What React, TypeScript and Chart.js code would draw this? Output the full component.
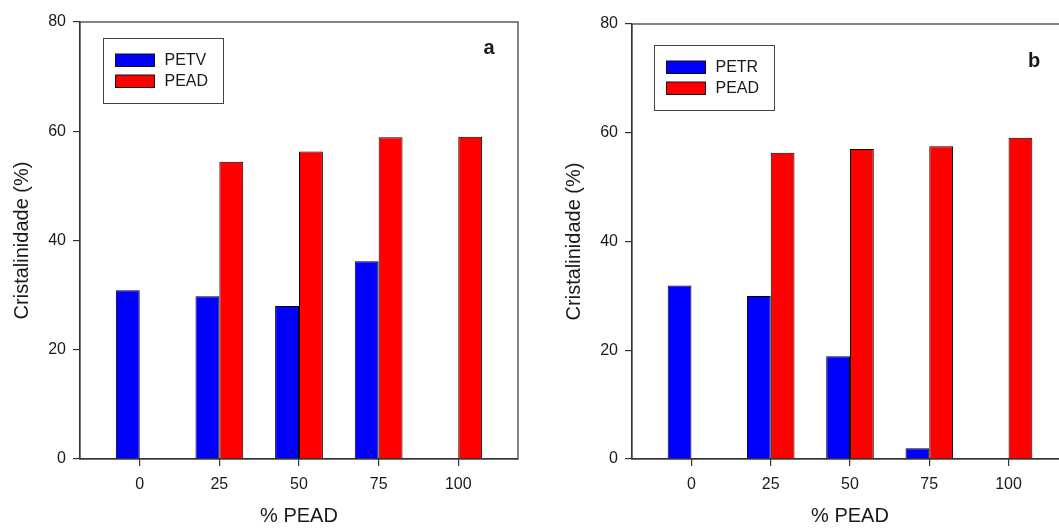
import { useEffect, useRef } from 'react';
import { Chart, registerables } from 'chart.js';

Chart.register(...registerables);

const categories = ['0', '25', '50', '75', '100'];
const yTicks = [0, 20, 40, 60, 80];
const petvValues = [30.9, 29.8, 28.0, 36.2, null];
const peadValuesA = [null, 54.4, 56.3, 58.9, 59.0];
const petrValues = [31.9, 30.0, 18.9, 2.0, null];
const peadValuesB = [null, 56.3, 57.0, 57.5, 59.1];

const FONT = '"Liberation Sans", Arial, Helvetica, sans-serif';
const TEXT = '#1a1a1a';
const LINE = '#333333';

const decorPlugin = {
  id: 'panelDecor',
  afterDraw(chart: any, _args: any, opts: any) {
    const { ctx, chartArea: ca } = chart;
    ctx.save();
    ctx.strokeStyle = LINE;
    ctx.lineWidth = 1.2;
    ctx.strokeRect(ca.left, ca.top, ca.right - ca.left, ca.bottom - ca.top);

    const lx = opts.legendX;
    const ly = opts.legendY;
    ctx.fillStyle = '#ffffff';
    ctx.fillRect(lx, ly, 120, 65);
    ctx.lineWidth = 1;
    ctx.strokeStyle = '#444444';
    ctx.strokeRect(lx + 0.5, ly + 0.5, 120, 65);
    chart.data.datasets.forEach((ds: any, i: number) => {
      const ry = ly + 16 + i * 21;
      ctx.fillStyle = ds.backgroundColor;
      ctx.fillRect(lx + 12.5, ry, 39, 12.5);
      ctx.strokeStyle = '#111111';
      ctx.strokeRect(lx + 12.5, ry, 39, 12.5);
      ctx.fillStyle = TEXT;
      ctx.font = `16px ${FONT}`;
      ctx.textAlign = 'left';
      ctx.textBaseline = 'middle';
      ctx.fillText(ds.label, lx + 61.5, ry + 6.5);
    });

    ctx.fillStyle = TEXT;
    ctx.font = `bold 20px ${FONT}`;
    ctx.textAlign = 'center';
    ctx.textBaseline = 'alphabetic';
    ctx.fillText(opts.letter, opts.letterX, opts.letterY);
    ctx.restore();
  },
};

function makeConfig(
  blueLabel: string,
  blueVals: (number | null)[],
  redVals: (number | null)[],
  padTop: number,
  padRight: number,
  decor: any
): any {
  const axisGrid = {
    display: true,
    drawOnChartArea: false,
    drawTicks: true,
    tickLength: 7,
    color: LINE,
    lineWidth: 1.2,
    offset: false,
  };
  return {
    type: 'bar',
    data: {
      datasets: [
        {
          label: blueLabel,
          data: blueVals.map((v, i) => ({ x: i, y: v })),
          backgroundColor: '#0000FF',
          borderColor: '#000000',
          borderWidth: 1,
          categoryPercentage: 0.6,
          barPercentage: 1,
        },
        {
          label: 'PEAD',
          data: redVals.map((v, i) => ({ x: i, y: v })),
          backgroundColor: '#FF0000',
          borderColor: '#000000',
          borderWidth: 1,
          categoryPercentage: 0.6,
          barPercentage: 1,
        },
      ],
    },
    options: {
      responsive: false,
      animation: false,
      layout: { padding: { left: 0, top: padTop, right: padRight, bottom: 0 } },
      plugins: {
        legend: { display: false },
        tooltip: { enabled: false },
        panelDecor: decor,
      },
      scales: {
        x: {
          type: 'linear',
          offset: false,
          min: -0.75,
          max: 4.75,
          afterBuildTicks: (axis: any) => {
            axis.ticks = categories.map((_, i) => ({ value: i }));
          },
          afterFit: (axis: any) => {
            axis.height = 72;
          },
          ticks: {
            color: TEXT,
            font: { family: FONT, size: 16 },
            padding: 9,
            maxRotation: 0,
            callback: (v: number) => categories[Math.round(v)],
          },
          grid: axisGrid,
          border: { display: true, color: LINE, width: 1.2 },
          title: {
            display: true,
            text: '% PEAD',
            color: TEXT,
            font: { family: FONT, size: 20 },
            padding: { top: 0, bottom: 3 },
          },
        },
        y: {
          type: 'linear',
          min: 0,
          max: 80,
          afterBuildTicks: (axis: any) => {
            axis.ticks = yTicks.map((v) => ({ value: v }));
          },
          afterFit: (axis: any) => {
            axis.width = 80;
          },
          ticks: {
            color: TEXT,
            font: { family: FONT, size: 16 },
            padding: 7,
          },
          grid: axisGrid,
          border: { display: true, color: LINE, width: 1.2 },
          title: {
            display: true,
            text: 'Cristalinidade (%)',
            color: TEXT,
            font: { family: FONT, size: 20 },
            padding: { top: 10, bottom: 0 },
          },
        },
      },
    },
    plugins: [decorPlugin],
  };
}

function Panel(props: { config: any; left: number }) {
  const ref = useRef<HTMLCanvasElement | null>(null);
  useEffect(() => {
    if (!ref.current) return;
    const chart = new Chart(ref.current, props.config);
    return () => chart.destroy();
  }, []);
  return (
    <canvas
      ref={ref}
      width={530}
      height={531}
      style={{ position: 'absolute', left: props.left, top: 0, width: 530, height: 531, display: 'block' }}
    />
  );
}

export default function App() {
  const configA = makeConfig('PETV', petvValues, peadValuesA, 22, 12, {
    legendX: 103,
    legendY: 38,
    letter: 'a',
    letterX: 489,
    letterY: 54,
  });
  const configB = makeConfig('PETR', petrValues, peadValuesB, 24, 14, {
    legendX: 102,
    legendY: 45,
    letter: 'b',
    letterX: 482,
    letterY: 67,
  });
  return (
    <div
      style={{
        position: 'fixed',
        left: 0,
        top: 0,
        width: 1059,
        height: 531,
        overflow: 'hidden',
        background: '#ffffff',
      }}
    >
      <Panel config={configA} left={0} />
      <Panel config={configB} left={552} />
    </div>
  );
}
